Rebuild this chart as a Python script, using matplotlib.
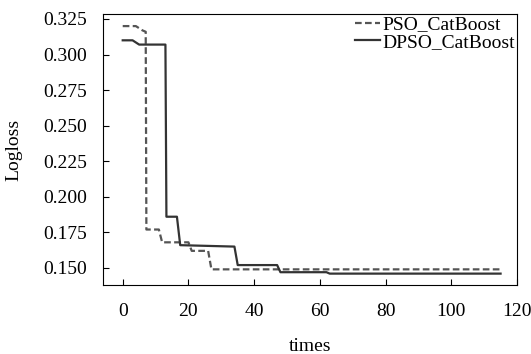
import matplotlib
matplotlib.use("Agg")
import matplotlib.pyplot as plt

plt.rcParams['font.family'] = ['Liberation Serif', 'DejaVu Serif']

pso_t = [0, 4, 6, 7, 7.2, 11, 12, 20, 21, 26, 27, 115]
pso_v = [0.320, 0.320, 0.317, 0.316, 0.177, 0.177, 0.168, 0.168, 0.162, 0.162, 0.149, 0.149]

dpso_t = [0, 3, 5, 13, 13.3, 16.5, 17.5, 34, 35, 47, 48, 62, 63, 115]
dpso_v = [0.310, 0.310, 0.307, 0.307, 0.186, 0.186, 0.166, 0.165, 0.152, 0.152, 0.147, 0.147, 0.146, 0.146]

xticks = [0, 20, 40, 60, 80, 100, 120]
yticks = [0.150, 0.175, 0.200, 0.225, 0.250, 0.275, 0.300, 0.325]

fig = plt.figure(figsize=(5.31, 3.54), dpi=100)
ax = fig.add_axes([103/531, 1-285/354, (517-103)/531, (285-14)/354])
ax.plot(pso_t, pso_v, ls='--', color='#555555', lw=1.6, label='PSO_CatBoost', dashes=(3, 1.5))
ax.plot(dpso_t, dpso_v, ls='-', color='#333333', lw=1.6, label='DPSO_CatBoost')
ax.set_xlim(-6, 120)
ax.set_ylim(0.138, 0.3285)
ax.set_xticks(xticks)
ax.set_yticks(yticks)
ax.set_yticklabels([f"{v:.3f}" for v in yticks])
ax.tick_params(direction='in', labelsize=14, length=4)
ax.set_xlabel('times', fontsize=14, labelpad=13)
ax.set_ylabel('Logloss', fontsize=14, labelpad=15)
ax.tick_params(axis='x', pad=13)
ax.tick_params(axis='y', pad=11.5)
ax.legend(loc='upper right', frameon=False, fontsize=14, handlelength=1.3,
          handletextpad=0.1, borderaxespad=0.1, labelspacing=0.0, borderpad=0.0)
fig.savefig('out.png', dpi=100)
